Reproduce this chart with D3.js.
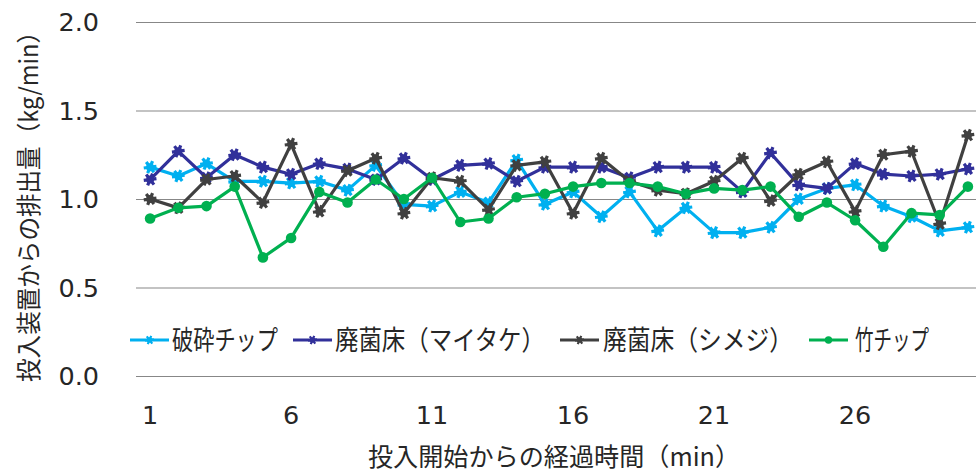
<!DOCTYPE html>
<html>
<head>
<meta charset="utf-8">
<script src="https://cdn.jsdelivr.net/npm/d3@7"></script>
<style>
  html, body { margin: 0; padding: 0; background: #fff; }
  svg { display: block; }
</style>
</head>
<body>
<svg id="chart" width="976" height="473"></svg>
<script>
// Elapsed minutes since feeding started
const minutes = [1,2,3,4,5,6,7,8,9,10,11,12,13,14,15,16,17,18,19,20,21,22,23,24,25,26,27,28,29,30];
const xTickLabels = [1, 6, 11, 16, 21, 26];
const yTickLabels = [0.0, 0.5, 1.0, 1.5, 2.0];

// Discharge rate from the feeder (kg/min)
const crushedChip = [1.18,1.13,1.20,1.10,1.10,1.09,1.10,1.05,1.19,0.97,0.96,1.04,0.98,1.22,0.97,1.04,0.90,1.04,0.82,0.95,0.81,0.81,0.84,1.00,1.06,1.08,0.96,0.90,0.82,0.84];
const maitakeBed  = [1.11,1.27,1.12,1.25,1.18,1.14,1.20,1.17,1.11,1.23,1.11,1.19,1.20,1.10,1.18,1.18,1.18,1.12,1.18,1.18,1.18,1.04,1.26,1.08,1.06,1.20,1.14,1.13,1.14,1.17];
const shimejiBed  = [1.00,0.95,1.11,1.13,0.98,1.31,0.93,1.16,1.23,0.92,1.12,1.10,0.94,1.19,1.21,0.92,1.23,1.10,1.05,1.03,1.10,1.23,0.99,1.14,1.21,0.93,1.25,1.27,0.86,1.36];
const bambooChip  = [0.89,0.95,0.96,1.07,0.67,0.78,1.04,0.98,1.11,1.00,1.12,0.87,0.89,1.01,1.03,1.07,1.09,1.09,1.07,1.03,1.06,1.05,1.07,0.90,0.98,0.88,0.73,0.92,0.91,1.07];

const seriesNames = ["破砕チップ", "廃菌床（マイタケ）", "廃菌床（シメジ）", "竹チップ"];
const seriesColors = ["#00B0F0", "#31309A", "#404040", "#00B050"];
const seriesMarkers = ["star", "star", "star", "circle"];
const seriesValues = [crushedChip, maitakeBed, shimejiBed, bambooChip];

const series = seriesNames.map((name, i) => ({
  name, color: seriesColors[i], marker: seriesMarkers[i],
  points: minutes.map((m, j) => ({ m, v: seriesValues[i][j] }))
}));

const svg = d3.select("#chart");
const plot = { left: 136, right: 982, top: 22, bottom: 376 };

const x = d3.scaleBand().domain(minutes).range([plot.left, plot.right]).padding(0);
const cx = m => x(m) + x.bandwidth() / 2;
const y = d3.scaleLinear().domain([0, 2]).range([plot.bottom, plot.top]);

const numFont = "'DejaVu Sans', Verdana, sans-serif";
const jpFont = "'Noto Sans CJK JP', 'Noto Sans', sans-serif";
const textColor = "#262626";

// Horizontal gridlines
svg.append("g")
  .selectAll("line")
  .data(yTickLabels)
  .join("line")
  .attr("x1", plot.left).attr("x2", 976)
  .attr("y1", d => y(d) + 0.5).attr("y2", d => y(d) + 0.5)
  .attr("stroke", "#878787").attr("stroke-width", 1.2);

// Y axis tick labels
svg.append("g")
  .selectAll("text")
  .data(yTickLabels)
  .join("text")
  .attr("x", 99)
  .attr("y", d => y(d))
  .attr("dy", "0.37em")
  .attr("text-anchor", "end")
  .attr("font-family", numFont)
  .attr("font-size", 25.5)
  .attr("fill", textColor)
  .text(d => d.toFixed(1));

// X axis tick labels
svg.append("g")
  .selectAll("text")
  .data(xTickLabels)
  .join("text")
  .attr("x", d => cx(d))
  .attr("y", 424)
  .attr("text-anchor", "middle")
  .attr("font-family", numFont)
  .attr("font-size", 25.5)
  .attr("fill", textColor)
  .text(d => d);

// Axis titles
svg.append("text")
  .attr("x", 554).attr("y", 466)
  .attr("text-anchor", "middle")
  .attr("font-family", jpFont)
  .attr("font-size", 25)
  .attr("textLength", 372)
  .attr("lengthAdjust", "spacingAndGlyphs")
  .attr("fill", textColor)
  .text("投入開始からの経過時間（min）");

svg.append("text")
  .attr("transform", "translate(38,201) rotate(-90)")
  .attr("text-anchor", "middle")
  .attr("font-family", jpFont)
  .attr("font-size", 24.5)
  .attr("textLength", 362)
  .attr("lengthAdjust", "spacingAndGlyphs")
  .attr("fill", textColor)
  .text("投入装置からの排出量（kg/min）");

// Marker drawing
const starType = d3.symbolAsterisk || d3.symbolCross;
function drawMarker(g, marker, color, scale) {
  if (marker === "circle") {
    g.append("circle").attr("r", 5.3 * scale).attr("fill", color);
  } else {
    g.append("path")
      .attr("d", d3.symbol(starType, 115 * scale * scale)())
      .attr("fill", "none")
      .attr("stroke", color)
      .attr("stroke-width", 3.2 * scale)
      .attr("transform", "rotate(22.5)");
    g.append("circle").attr("r", 4 * scale).attr("fill", color);
  }
}

// Series lines and markers
const line = d3.line().x(d => cx(d.m)).y(d => y(d.v));
series.forEach(s => {
  const g = svg.append("g");
  g.append("path")
    .attr("d", line(s.points))
    .attr("fill", "none")
    .attr("stroke", s.color)
    .attr("stroke-width", 3.2)
    .attr("stroke-linejoin", "round");
  g.selectAll("g.mk")
    .data(s.points)
    .join("g")
    .attr("class", "mk")
    .attr("transform", d => `translate(${cx(d.m)},${y(d.v)})`)
    .each(function () { drawMarker(d3.select(this), s.marker, s.color, 1); });
});

// Legend
const legendItems = [
  { x: 130, tx: 172, tw: 106 },
  { x: 293, tx: 335, tw: 210 },
  { x: 560, tx: 603, tw: 190 },
  { x: 809, tx: 855, tw: 74 }
];
const legendY = 340;
const legend = svg.append("g");
series.forEach((s, i) => {
  const it = legendItems[i];
  const g = legend.append("g");
  g.append("line")
    .attr("x1", it.x).attr("x2", it.x + 39)
    .attr("y1", legendY).attr("y2", legendY)
    .attr("stroke", s.color).attr("stroke-width", 3.2);
  const m = g.append("g").attr("transform", `translate(${it.x + 19.5},${legendY})`);
  drawMarker(m, s.marker, s.color, 0.7);
  g.append("text")
    .attr("x", it.tx).attr("y", legendY)
    .attr("dy", "0.36em")
    .attr("font-family", jpFont)
    .attr("font-size", 27)
    .attr("textLength", it.tw)
    .attr("lengthAdjust", "spacingAndGlyphs")
    .attr("fill", textColor)
    .text(s.name);
});
</script>
</body>
</html>
